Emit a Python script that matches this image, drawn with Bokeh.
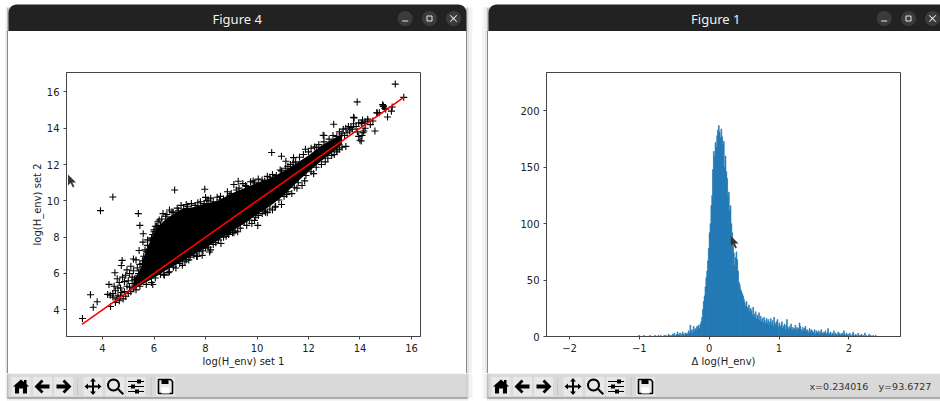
import numpy as np
from bokeh.core.properties import value
from bokeh.embed import file_html
from bokeh.resources import INLINE
from bokeh.layouts import column, row
from bokeh.models import FixedTicker, PolyAnnotation, Range1d, Spacer
from bokeh.plotting import figure

# ---------- left figure data ----------
fit_x = [3.2, 15.7]
fit_y = [3.2, 15.7]
dense_x = [5.2, 5.5, 5.6, 5.8, 6.1, 6.5, 7.15, 7.5, 8.0, 8.5, 9.0, 9.5, 10.0, 10.5, 11.0, 11.5, 12.0, 12.5, 13.0, 13.3]
dense_upper = [5.6, 6.3, 6.9, 7.6, 8.5, 9.05, 9.6, 9.65, 9.85, 10.0, 10.4, 10.7, 11.0, 11.25, 11.6, 12.05, 12.5, 13.05, 13.45, 13.7]
dense_lower = [5.15, 5.35, 5.45, 5.6, 5.85, 6.2, 6.7, 7.0, 7.4, 7.85, 8.3, 8.75, 9.25, 9.7, 10.25, 10.95, 11.6, 12.2, 12.75, 13.1]
outlier_x = [15.37, 15.7, 13.89, 14.91, 14.88, 15.25, 15.22, 15.07, 14.67, 14.58, 13.77, 12.98, 12.57, 11.88, 12.23, 10.57, 10.95, 11.12, 11.42, 9.27, 7.97, 8.0, 6.8, 4.4, 8.58, 3.92, 5.39, 5.45, 5.58, 5.57, 5.42, 5.2, 4.76, 4.73, 4.48, 4.57, 3.53, 3.79, 3.64, 3.22, 4.31, 10.03, 9.9, 9.45, 9.1, 8.85, 8.16, 7.87, 7.68, 7.25, 6.38, 5.95, 10.72, 10.33]
outlier_y = [16.43, 15.7, 15.45, 15.23, 15.3, 15.17, 14.94, 14.62, 14.84, 13.85, 14.57, 14.22, 13.61, 12.84, 12.97, 12.66, 12.46, 12.18, 12.38, 11.08, 10.64, 10.19, 10.6, 10.21, 10.25, 9.46, 9.3, 8.65, 8.19, 7.73, 7.27, 6.8, 6.72, 6.44, 6.04, 5.71, 4.83, 4.44, 4.14, 3.52, 4.18, 8.65, 8.92, 8.88, 8.25, 8.2, 7.18, 7.0, 6.94, 6.76, 5.95, 5.39, 9.7, 9.38]
low_end_x = [4.5, 4.55, 4.6, 4.65, 4.7, 4.75, 4.8, 4.85, 4.9, 4.95, 5.0, 5.0, 4.85, 4.78, 5.05, 5.1, 5.15, 5.2, 5.25, 5.2, 5.3, 5.35, 5.4, 5.45, 5.5, 5.35, 5.5, 5.6, 5.45, 5.3, 5.55, 4.3, 4.4, 4.2, 4.25, 4.45, 4.6, 4.65, 4.4, 4.5, 4.9, 5.05, 4.95, 5.1, 5.15, 4.7]
low_end_y = [4.4, 4.6, 4.8, 4.5, 4.75, 4.95, 4.6, 5.0, 4.75, 5.3, 4.9, 5.6, 5.55, 5.8, 5.25, 5.0, 5.45, 5.2, 5.7, 6.15, 5.1, 5.5, 5.9, 5.3, 5.7, 6.3, 6.2, 6.4, 6.5, 6.75, 6.7, 4.8, 4.9, 4.85, 5.4, 5.3, 5.2, 5.5, 4.7, 5.05, 5.9, 6.0, 6.2, 6.4, 5.8, 5.2]
upper_x = [5.7, 5.75, 5.85, 5.95, 6.0, 6.05, 6.15, 6.3, 6.35, 6.5, 6.6, 6.75, 6.9, 7.05, 7.15, 7.3, 7.45, 7.6, 7.8, 7.95, 8.1, 8.3, 8.45, 8.7, 8.85, 9.0, 9.1, 9.3, 9.45, 9.6, 9.75, 9.9, 10.05, 10.2, 10.4, 10.6, 10.75, 10.9, 11.1, 11.3, 11.5, 11.65, 11.8, 12.0, 12.1, 12.3, 12.4, 12.6, 12.8, 12.95, 13.1, 13.2, 13.35, 13.45, 13.55, 13.65, 13.7, 13.3, 13.5, 13.6, 13.4, 13.15, 13.75, 13.85, 13.95, 14.05, 14.2, 14.3]
upper_y = [7.2, 7.55, 7.8, 8.15, 8.4, 8.6, 8.85, 9.0, 9.3, 9.25, 9.5, 9.35, 9.6, 9.75, 9.55, 9.7, 9.85, 9.75, 9.95, 9.85, 10.05, 9.95, 10.2, 10.1, 10.5, 10.4, 10.9, 10.7, 10.95, 10.8, 11.05, 11.0, 11.2, 11.15, 11.35, 11.45, 11.4, 11.7, 11.8, 12.0, 12.15, 12.4, 12.55, 12.7, 12.9, 12.95, 13.1, 13.25, 13.4, 13.6, 13.55, 13.8, 13.95, 14.0, 14.1, 14.05, 13.95, 13.7, 13.75, 13.85, 13.6, 13.35, 14.25, 14.1, 14.3, 14.3, 14.35, 14.4]
lower_x = [5.7, 5.9, 6.05, 6.25, 6.4, 6.6, 6.75, 7.0, 7.2, 7.4, 7.55, 7.9, 8.1, 8.3, 8.5, 8.7, 8.9, 9.15, 9.35, 9.5, 9.7, 9.95, 10.2, 10.5, 10.7, 10.4, 10.85, 11.05, 11.2, 11.45, 11.6, 11.75, 11.9, 12.1, 12.3, 12.5, 12.75, 13.0, 13.2, 13.45]
lower_y = [5.4, 5.5, 5.75, 5.95, 5.9, 6.1, 6.35, 6.55, 6.65, 6.9, 7.0, 7.25, 7.45, 7.6, 7.85, 8.0, 8.15, 8.35, 8.5, 8.85, 8.95, 9.1, 9.3, 9.55, 9.65, 9.35, 10.05, 10.25, 10.5, 10.75, 11.0, 10.85, 11.4, 11.6, 11.85, 12.0, 12.35, 12.55, 12.85, 13.0]
edge_x = [5.25, 5.4, 5.55, 5.6, 5.7, 5.65, 5.8, 5.75, 5.9, 6.0, 6.1, 6.2, 6.25, 6.45, 6.7, 6.95, 7.25, 7.7, 8.05, 8.2, 8.55, 8.95, 9.2, 9.55, 9.85, 10.3, 10.5, 10.95, 11.2, 11.4, 6.55, 6.85, 7.1, 7.35, 7.65, 7.75, 8.0, 8.2, 8.4, 8.6, 8.8, 9.05, 9.25, 9.6, 9.8, 10.05, 10.3, 10.6, 10.95, 11.15, 11.35, 11.55, 11.85, 12.2, 12.65, 12.9, 13.1, 13.3]
edge_y = [5.65, 6.0, 6.55, 6.95, 6.7, 7.3, 7.2, 7.85, 7.95, 8.3, 8.6, 8.95, 8.65, 9.15, 9.4, 9.45, 9.8, 9.9, 10.0, 10.15, 10.05, 10.3, 10.6, 10.85, 11.1, 11.1, 11.3, 11.65, 11.9, 12.1, 6.05, 6.3, 6.45, 6.75, 6.95, 7.2, 7.4, 7.3, 7.7, 7.65, 8.05, 8.25, 8.3, 8.65, 8.75, 9.2, 9.45, 9.5, 9.8, 10.35, 10.4, 10.7, 11.1, 11.5, 12.15, 12.5, 12.7, 12.95]
top_x = [14.0, 14.08, 14.12, 14.05, 14.15, 13.9, 13.95, 14.08, 14.2, 14.3, 14.4, 14.5, 14.1, 14.65, 14.75, 14.9, 14.95, 15.0, 13.1, 12.6, 13.75]
top_y = [13.34, 13.6, 13.75, 13.3, 13.85, 13.8, 13.55, 14.26, 14.0, 14.5, 14.2, 14.4, 14.45, 14.85, 14.85, 15.2, 15.1, 15.05, 12.8, 13.6, 14.6]
x1_ticks = [4, 6, 8, 10, 12, 14, 16]
y1_ticks = [4, 6, 8, 10, 12, 14, 16]

# ---------- right figure data (histogram counts per bin) ----------
bin_width = 0.012
start_neg, start_rise, start_peak, start_fall, start_tail = -1.01, -0.30, 0.0, 0.48, 1.0
count_neg = [1, 0, 0, 0, 0, 0, 1, 0, 0, 0, 0, 0, 0, 1, 0, 0, 0, 0, 0, 1, 0, 0, 0, 1, 0, 0, 1, 0, 0, 0, 1, 0, 1, 0, 0, 2, 1, 0, 1, 0, 2, 1, 3, 0, 1, 2, 4, 1, 2, 3, 0, 2, 4, 2, 1, 3, 2, 3, 2]
count_rise = [5, 3, 10, 4, 6, 3, 9, 5, 7, 6, 9, 8, 10, 7, 11, 13, 17, 24, 31, 36, 44, 52, 58, 67, 78]
count_peak = [92, 100, 116, 125, 148, 164, 160, 172, 168, 178, 183, 187, 181, 176, 184, 177, 170, 173, 150, 160, 146, 140, 125, 128, 112, 116, 100, 92, 85, 74, 63, 70, 75, 68, 58, 48, 46, 42, 40, 38]
count_fall = [36, 33, 30, 27, 31, 26, 24, 28, 22, 25, 23, 19, 26, 20, 17, 22, 16, 19, 15, 21, 14, 18, 13, 16, 12, 17, 14, 11, 16, 12, 15, 10, 13, 16, 11, 14, 9, 17, 12, 10, 13, 15, 9]
count_tail = [12, 8, 10, 13, 7, 9, 11, 6, 10, 15, 8, 6, 9, 7, 11, 5, 8, 6, 7, 10,
              5, 8, 6, 7, 12, 9, 6, 4, 8, 5, 7, 9, 4, 6, 5, 3, 7, 4, 6, 5,
              4, 3, 6, 2, 5, 4, 3, 5, 2, 4, 6, 3, 2, 4, 3, 5, 2, 3, 7, 3,
              2, 4, 1, 3, 2, 5, 1, 3, 2, 1, 4, 2, 3, 1, 2, 3, 1, 5, 2, 1,
              3, 1, 2, 0, 3, 1, 0, 2, 4, 1, 0, 2, 1, 0, 3, 1, 0, 1, 2, 0,
              1, 0, 3, 0, 1, 0, 0, 2, 0, 1, 0, 0, 1, 0, 0, 1, 0]
x2_ticks = [-2, -1, 0, 1, 2]
y2_ticks = [0, 50, 100, 150, 200]

FONT = "DejaVu Sans"
WIN_A = (8, 466)      # left window, page pixels
WIN_B = (488, 948)    # right window runs past the picture's edge
BAR_TOP, BAR_BOTTOM, TOOL_TOP, WIN_BOTTOM = 4, 31, 373, 398
PAGE_W, PAGE_H = 940, 401
# (page x where a shadow stripe starts, width, colour)
STRIPES = [(5, 1, "#f0f0f0"), (6, 1, "#e2e2e2"), (7, 1, "#8a8a8a"),
           (466, 1, "#8a8a8a"), (467, 2, "#e2e2e2"), (469, 3, "#f2f2f2"),
           (482, 3, "#f4f4f4"), (485, 2, "#e6e6e6"), (487, 1, "#8a8a8a")]


def style_axes(p, xt, yt):
    p.grid.visible = False
    p.outline_line_color = "#444444"
    p.outline_line_width = 1
    for ax, t in ((p.xaxis[0], xt), (p.yaxis[0], yt)):
        ax.ticker = FixedTicker(ticks=t)
        ax.minor_tick_line_color = None
        ax.major_tick_in = 0
        ax.major_tick_out = 3
        ax.major_tick_line_color = "#444444"
        ax.axis_line_color = "#444444"
        ax.major_label_text_font = FONT
        ax.major_label_text_font_size = "10px"
        ax.major_label_text_color = "#222222"
        ax.major_label_standoff = 4
        ax.axis_label_text_font = FONT
        ax.axis_label_text_font_size = "10px"
        ax.axis_label_text_font_style = "normal"
        ax.axis_label_text_color = "#222222"
        ax.axis_label_standoff = 1


def strip(width, height, x0, x1, y0, y1, fill="#ffffff"):
    """Figure without axes whose data units are the page's pixels (y runs downward)."""
    s = figure(width=width, height=height, output_backend="svg", toolbar_location=None,
               x_range=Range1d(x0, x1), y_range=Range1d(y1, y0),
               x_axis_type=None, y_axis_type=None,
               min_border=0, min_border_left=0, min_border_right=0, min_border_top=0, min_border_bottom=0,
               background_fill_color=fill, border_fill_color=fill)
    s.grid.visible = False
    s.outline_line_color = None
    return s


def rect(s, l, r, t, b, color):
    s.quad(left=[l], right=[r], top=[t], bottom=[b], fill_color=color, line_color=None)


def shape(s, pts, cx, cy, fill="#000000", line=None, lw=1.0):
    s.patch([cx + a for a, _ in pts], [cy + b for _, b in pts], fill_color=fill,
            line_color=line, line_width=lw)


def circle_pts(r, n=24):
    return [(r * np.cos(2 * np.pi * i / n), r * np.sin(2 * np.pi * i / n)) for i in range(n)]


def rounded_top(l, r, t, b, rad=8):
    pts = [(l, b)]
    pts += [(l + rad - rad * np.cos(a), t + rad - rad * np.sin(a)) for a in np.linspace(0, np.pi / 2, 6)]
    pts += [(r - rad + rad * np.sin(a), t + rad - rad * np.cos(a)) for a in np.linspace(0, np.pi / 2, 6)]
    pts.append((r, b))
    return pts


HOME = [(-8, 0), (0, -7), (3, -4.5), (3, -6.5), (5.5, -6.5), (5.5, -2.5), (8, 0), (6, 0), (6, 7), (2, 7), (2, 2), (-2, 2), (-2, 7), (-6, 7), (-6, 0)]
LEFT = [(-8, 0), (-1, -7), (1, -5), (-2, -2), (7, -2), (7, 2), (-2, 2), (1, 5), (-1, 7)]
RIGHT = [(-a, b) for a, b in LEFT]
MOVE = [(0, -8.5), (3, -5), (1, -5), (1, -1), (5, -1), (5, -3), (8.5, 0), (5, 3), (5, 1), (1, 1), (1, 5), (3, 5), (0, 8.5), (-3, 5), (-1, 5), (-1, 1), (-5, 1), (-5, 3), (-8.5, 0), (-5, -3), (-5, -1), (-1, -1), (-1, -5), (-3, -5)]
CURSOR = [(0, 0), (0, 11), (2.6, 8.5), (4.8, 13), (6.4, 12), (4.4, 8), (8, 8)]
ICON_CENTRES = [12.5, 34, 55, 84.5, 106.5, 127.5, 157]


def title_bar(s, win, title, title_x, buttons):
    shape(s, rounded_top(win[0], win[1], BAR_TOP, BAR_BOTTOM), 0, 0, fill="#222222")
    s.text([title_x], [18.5], text=[title], text_font=value("Noto Sans"), text_font_size="13px",
           text_color="#f2f2f2", text_align="center", text_baseline="middle")
    cy = 18
    for kind, cx in zip(("min", "max", "close"), buttons):
        shape(s, circle_pts(7.5), cx, cy, fill="#3b3b3b")
        if kind == "min":
            rect(s, cx - 3, cx + 3, cy + 2, cy + 3, "#e8e8e8")
        elif kind == "max":
            shape(s, [(-2.5, -2.5), (2.5, -2.5), (2.5, 2.5), (-2.5, 2.5)], cx, cy, fill="#3b3b3b", line="#e8e8e8")
        else:
            shape(s, [(-3, -3.6), (0, -0.7), (3, -3.6), (3.6, -3), (0.7, 0), (3.6, 3), (3, 3.6), (0, 0.7), (-3, 3.6), (-3.6, 3), (-0.7, 0), (-3.6, -3)], cx, cy, fill="#e8e8e8")


def tool_bar(s, win):
    ox = win[0]
    rect(s, ox, win[1], TOOL_TOP, WIN_BOTTOM, "#d9d9d9")
    rect(s, ox - 1, min(win[1] + 1, 941), WIN_BOTTOM - 1, WIN_BOTTOM, "#777777")
    cy = 386
    for c in ICON_CENTRES:
        rect(s, ox + c - 9.5, ox + c + 9.5, cy - 9.5, cy + 9.5, "#e8e8e8")
    for c in (69, 142.5):
        rect(s, ox + c - 0.5, ox + c + 0.5, cy - 9, cy + 9, "#c6c6c6")
    shape(s, HOME, ox + ICON_CENTRES[0], cy)
    shape(s, LEFT, ox + ICON_CENTRES[1], cy)
    shape(s, RIGHT, ox + ICON_CENTRES[2], cy)
    shape(s, MOVE, ox + ICON_CENTRES[3], cy)
    z = ox + ICON_CENTRES[4]
    shape(s, circle_pts(5.5), z - 1.5, cy - 1.5, fill="#e8e8e8", line="#000000", lw=2)
    shape(s, [(2.5, 3.5), (4, 2), (9, 7), (7.5, 8.5)], z, cy)
    c = ox + ICON_CENTRES[5]
    for dy, k in ((-5, 3), (0, -3), (5, 1)):
        rect(s, c - 8, c + 8, cy + dy - 0.6, cy + dy + 0.6, "#000000")
        rect(s, c + k - 2, c + k + 2, cy + dy - 2, cy + dy + 2, "#000000")
    c = ox + ICON_CENTRES[6]
    shape(s, [(-7, -7), (5, -7), (7, -5), (7, 7), (-7, 7)], c, cy, fill="#e8e8e8", line="#000000", lw=1.6)
    rect(s, c - 4, c + 3, cy - 7, cy - 2.5, "#000000")
    rect(s, c - 4, c + 4, cy + 1, cy + 7, "#ffffff")


def cursor(p, cx, cy):
    p.add_layout(PolyAnnotation(xs=[cx + a for a, _ in CURSOR], ys=[cy + b for _, b in CURSOR],
                                xs_units="canvas", ys_units="canvas",
                                fill_color="#333333", fill_alpha=1, line_color="#aaaaaa", line_width=0.6))


def spacer_band(x0, x1, height):
    """Narrow page columns between the plots, carrying the windows' shadow stripes."""
    out, x = [], x0
    for sx, w, col in STRIPES:
        if sx < x0 or sx >= x1:
            continue
        if sx > x:
            out.append(Spacer(width=sx - x, height=height, styles={"background-color": "#ffffff"}))
        out.append(Spacer(width=w, height=height, styles={"background-color": col}))
        x = sx + w
    return out


# ---------- top strip ----------
top = strip(PAGE_W, BAR_BOTTOM, 0, PAGE_W, 0, BAR_BOTTOM)
for sx, w, col in STRIPES:
    rect(top, sx, sx + w, BAR_TOP + 3, BAR_BOTTOM, col)
title_bar(top, WIN_A, "Figure 4", 236.7, (404.7, 429, 453))
title_bar(top, WIN_B, "Figure 1", 715.3, (883.7, 908, 932))

# ---------- left window ----------
mid_h = TOOL_TOP - BAR_BOTTOM
p1 = figure(width=WIN_A[1] - WIN_A[0], height=mid_h, output_backend="svg", toolbar_location=None,
            x_range=Range1d(2.60, 16.35), y_range=Range1d(2.53, 17.07),
            frame_width=354, frame_height=264,
            min_border_left=58, min_border_right=46, min_border_top=41, min_border_bottom=37,
            x_axis_label="log(H_env) set 1", y_axis_label="log(H_env) set 2",
            background_fill_color="#ffffff", border_fill_color="#ffffff")
style_axes(p1, x1_ticks, y1_ticks)
p1.varea(dense_x, dense_upper, dense_lower, fill_color="#000000")
for xs, ys in ((outlier_x, outlier_y), (low_end_x, low_end_y), (upper_x, upper_y),
               (lower_x, lower_y), (edge_x, edge_y), (top_x, top_y)):
    p1.scatter(xs, ys, marker="cross", size=7, line_color="#000000", line_width=1.1)
p1.line(fit_x, fit_y, line_color="#ff0000", line_width=1.6)
cursor(p1, 59.5, 143)

# ---------- right window ----------
p2 = figure(width=PAGE_W - WIN_B[0], height=mid_h, output_backend="svg", toolbar_location=None,
            x_range=Range1d(-2.33, 2.74), y_range=Range1d(0, 234),
            frame_width=354, frame_height=264,
            min_border_left=58, min_border_right=40, min_border_top=41, min_border_bottom=37,
            x_axis_label="\u0394 log(H_env)",
            background_fill_color="#ffffff", border_fill_color="#ffffff")
style_axes(p2, x2_ticks, y2_ticks)
p2.xaxis[0].major_label_overrides = {-2: "\u22122", -1: "\u22121"}
for start, counts in ((start_neg, count_neg), (start_rise, count_rise), (start_peak, count_peak),
                      (start_fall, count_fall), (start_tail, count_tail)):
    left = start + np.arange(len(counts)) * bin_width
    p2.quad(left=left, right=left + bin_width, bottom=0, top=counts,
            fill_color="#1f77b4", line_color="#1f77b4", line_width=0.6)
cursor(p2, 242, 204)

# ---------- bottom strip ----------
bottom = strip(PAGE_W, PAGE_H - TOOL_TOP, 0, PAGE_W, TOOL_TOP, PAGE_H)
for sx, w, col in STRIPES:
    rect(bottom, sx, sx + w, TOOL_TOP, WIN_BOTTOM, col)
rect(bottom, 6, 468, WIN_BOTTOM, 400, "#ececec")
rect(bottom, 486, 940, WIN_BOTTOM, 400, "#ececec")
tool_bar(bottom, WIN_A)
tool_bar(bottom, WIN_B)
bottom.text([809, 878], [385.5, 385.5], text=["x=0.234016", "y=93.6727"], text_font=value(FONT),
            text_font_size="9.5px", text_color="#333333", text_align="left", text_baseline="middle")

middle = row(*spacer_band(0, 8, mid_h), p1, *spacer_band(466, 488, mid_h), p2, spacing=0)
page = column(top, middle, bottom, spacing=0)
open("out.html", "w").write(file_html(page, INLINE))
